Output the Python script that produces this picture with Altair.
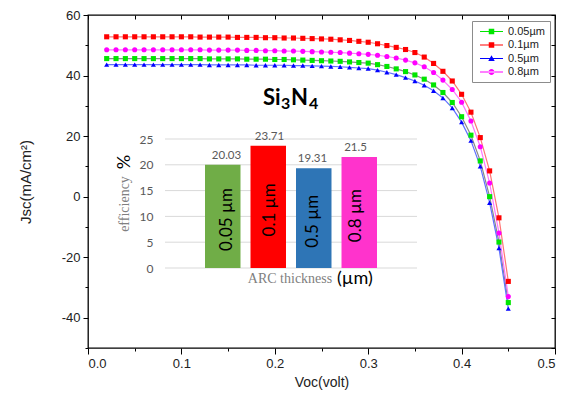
import altair as alt
import pandas as pd

# ---------------- data ----------------
voc = [0.02, 0.03, 0.04, 0.05, 0.06, 0.07, 0.08, 0.09, 0.10, 0.11,
       0.12, 0.13, 0.14, 0.15, 0.16, 0.17, 0.18, 0.19, 0.20, 0.21,
       0.22, 0.23, 0.24, 0.25, 0.26, 0.27, 0.28, 0.29, 0.30, 0.31,
       0.32, 0.33, 0.34, 0.35, 0.36, 0.37, 0.38, 0.39, 0.40, 0.41,
       0.42, 0.43, 0.44, 0.45]

jsc_005 = [45.6, 45.6, 45.6, 45.6, 45.6, 45.6, 45.6, 45.6, 45.6, 45.6,
           45.6, 45.5, 45.5, 45.5, 45.5, 45.4, 45.4, 45.4, 45.3, 45.3,
           45.2, 45.1, 45.0, 44.9, 44.8, 44.7, 44.5, 44.3, 44.1, 43.6,
           43.0, 42.2, 41.3, 40.2, 38.8, 36.9, 34.4, 31.1, 26.4, 20.3,
           11.8, 0.0, -15.0, -35.0]
jsc_01 = [52.8, 52.8, 52.8, 52.8, 52.8, 52.8, 52.8, 52.8, 52.8, 52.8,
          52.7, 52.7, 52.7, 52.7, 52.6, 52.6, 52.6, 52.5, 52.5, 52.4,
          52.4, 52.3, 52.2, 52.1, 52.0, 51.8, 51.6, 51.3, 51.0, 50.5,
          49.9, 49.3, 48.6, 47.6, 46.1, 44.0, 41.4, 38.2, 33.8, 27.9,
          19.5, 8.5, -7.0, -28.0]
jsc_05 = [43.6, 43.6, 43.6, 43.6, 43.6, 43.6, 43.6, 43.6, 43.6, 43.6,
          43.6, 43.5, 43.5, 43.5, 43.5, 43.5, 43.4, 43.4, 43.4, 43.4,
          43.3, 43.3, 43.2, 43.1, 43.0, 42.9, 42.7, 42.5, 42.3, 41.8,
          41.1, 40.3, 39.3, 38.2, 36.8, 35.0, 32.6, 29.3, 24.6, 18.5,
          10.0, -2.0, -17.0, -37.0]
jsc_08 = [48.5, 48.5, 48.5, 48.5, 48.5, 48.5, 48.5, 48.5, 48.5, 48.5,
          48.5, 48.4, 48.4, 48.4, 48.4, 48.3, 48.3, 48.2, 48.2, 48.1,
          48.1, 48.0, 47.9, 47.8, 47.7, 47.6, 47.4, 47.2, 47.0, 46.7,
          46.3, 45.8, 45.1, 44.2, 42.9, 41.0, 38.5, 35.4, 31.2, 25.0,
          16.5, 4.5, -12.0, -33.0]

series_names = ["0.05µm", "0.1µm", "0.5µm", "0.8µm"]
series_values = [jsc_005, jsc_01, jsc_05, jsc_08]
marker_colors = ["#00e600", "#ff0000", "#0000ff", "#ff00ff"]
line_colors = ["#8a8a8a", "#ff7575", "#6070ff", "#ff75ff"]
marker_shapes = ["square", "square", "triangle-up", "circle"]

LINE = "M-2.3,-0.12H2.3V0.12H-2.3Z "
legend_paths = [
    LINE + "M-0.55,-0.55H0.55V0.55H-0.55Z",
    LINE + "M-0.55,-0.55H0.55V0.55H-0.55Z",
    LINE + "M0,-0.65L0.65,0.5H-0.65Z",
    LINE + "M-0.6,0A0.6,0.6 0 1,0 0.6,0A0.6,0.6 0 1,0 -0.6,0Z",
]

x_ticks = [0.0, 0.05, 0.1, 0.15, 0.2, 0.25, 0.3, 0.35, 0.4, 0.45, 0.5]
y_ticks = [-50, -40, -30, -20, -10, 0, 10, 20, 30, 40, 50, 60]

thickness = ["0.05 µm", "0.1 µm", "0.5 µm", "0.8 µm"]
efficiency = [20.03, 23.71, 19.31, 21.5]
eff_labels = ["20.03", "23.71", "19.31", "21.5"]
bar_colors = ["#70ad47", "#ff0000", "#2e75b6", "#ff33cc"]
bar_ticks = [0, 5, 10, 15, 20, 25]

# ---------------- tables ----------------
rows = []
for name, vals, mc, lc, sh in zip(series_names, series_values, marker_colors, line_colors, marker_shapes):
    for i, (v, j) in enumerate(zip(voc, vals)):
        rows.append({"series": name, "V": v, "J": j, "i": i, "mc": mc, "lc": lc, "shape": sh})
curves = pd.DataFrame(rows)

bar_df = pd.DataFrame({"t": thickness, "e": efficiency, "lab": eff_labels, "c": bar_colors})
grid_df = pd.DataFrame({"g": bar_ticks})

W, H = 467, 333
TOP = 7  # plot top sits at 8 + TOP px on the page
xs = alt.Scale(domain=[0, 0.5], nice=False, zero=False)
ys = alt.Scale(domain=[-50, 60], nice=False, zero=False)

major_x = "abs(datum.value*10 - round(datum.value*10)) < 0.01"
major_y = "datum.value % 20 == 0"

lines = alt.Chart(curves).mark_line(strokeWidth=1.2).encode(
    x=alt.X("V:Q", scale=xs, axis=alt.Axis(
        orient="bottom", values=x_ticks, grid=False, domain=False,
        labelExpr=f"{major_x} ? format(datum.value, '.1f') : ''",
        tickSize={"condition": {"test": major_x, "value": 6}, "value": 3},
        tickColor="black", labelFont="Liberation Sans", labelFontSize=13,
        labelColor="#222", labelPadding=3,
        title="Voc(volt)", titleFont="Liberation Sans", titleFontSize=14,
        titleFontWeight="normal", titleColor="#222", titlePadding=5)),
    y=alt.Y("J:Q", scale=ys, axis=alt.Axis(
        orient="left", values=y_ticks, grid=False, domain=False,
        labelExpr=f"{major_y} ? datum.value : ''",
        tickSize={"condition": {"test": major_y, "value": 5}, "value": 3},
        tickColor="black", labelFont="Liberation Sans", labelFontSize=13,
        labelColor="#222", labelPadding=3,
        title="Jsc(mA/cm²)", titleFont="Liberation Sans", titleFontSize=15,
        titleFontWeight="normal", titleColor="#222", titlePadding=28)),
    color=alt.Color("lc:N", scale=None),
    detail="series:N",
    order="i:Q",
)

points = alt.Chart(curves).mark_point(filled=True, size=26, opacity=1).encode(
    x=alt.X("V:Q", scale=xs, axis=alt.Axis(
        orient="top", values=x_ticks, labels=False, grid=False, domain=False,
        tickSize={"expr": "-4"}, tickColor="black", title=None)),
    y=alt.Y("J:Q", scale=ys, axis=alt.Axis(
        orient="right", values=y_ticks, labels=False, grid=False, domain=False,
        tickSize={"expr": "-4"}, tickColor="black", title=None)),
    color=alt.Color("mc:N", scale=None),
    shape=alt.Shape("shape:N", scale=None),
)

leg = dict(title=None, orient="none", legendX=384, legendY=6, padding=5,
           strokeColor="#8c8c8c", fillColor="white", labelFont="Liberation Sans",
           labelFontSize=11, labelColor="#222", symbolSize=100, symbolOffset=9,
           labelOffset=11, rowPadding=1.5, symbolStrokeWidth=0)
legend_layer = alt.Chart(curves).transform_filter("false").mark_point(filled=True, opacity=1).encode(
    color=alt.Color("series:N", scale=alt.Scale(domain=series_names, range=marker_colors),
                    legend=alt.Legend(**leg)),
    shape=alt.Shape("series:N", scale=alt.Scale(domain=series_names, range=legend_paths),
                    legend=alt.Legend(**leg)),
)

# ---------------- inset bar chart ----------------
OX, OY = 88, 8 + TOP  # plot origin on the page
bx = alt.Scale(domain=thickness, range=[205 - OX, 377 - OX], paddingInner=0.22, paddingOuter=0)
by = alt.Scale(domain=[0, 25], range=[268 - OY, 139 - OY], nice=False, zero=True)

bar_grid = alt.Chart(grid_df).mark_rule(color="#d9d9d9", strokeWidth=1).encode(
    y=alt.Y("g:Q", scale=by, axis=alt.Axis(
        orient="left", offset=-(165 - OX), values=bar_ticks, grid=False, domain=False,
        ticks=False, tickSize=0, labelPadding=12, labelColor="#595959",
        labelFont="Lato", labelFontSize=12, title=None)),
    x=alt.value(165 - OX), x2=alt.value(417 - OX),
)
bars = alt.Chart(bar_df).mark_bar().encode(
    x=alt.X("t:N", scale=bx, axis=None, sort=thickness),
    y=alt.Y("e:Q", scale=by, axis=None),
    color=alt.Color("c:N", scale=None),
)
bar_vals = alt.Chart(bar_df).mark_text(baseline="bottom", dy=-4, font="Lato",
                                       fontSize=11.5, color="#595959").encode(
    x=alt.X("t:N", scale=bx, axis=None, sort=thickness),
    y=alt.Y("e:Q", scale=by, axis=None),
    text="lab:N",
)
bar_names = alt.Chart(bar_df).transform_calculate(mid="datum.e/2 - 0.6").mark_text(
    angle=270, baseline="middle", align="center", font="Lato", fontSize=17, color="black").encode(
    x=alt.X("t:N", scale=bx, axis=None, sort=thickness),
    y=alt.Y("mid:Q", scale=by, axis=None),
    text="t:N",
)


def label(txt, x, y, **kw):
    # x, y given in page pixels, converted to plot coordinates
    return alt.Chart(pd.DataFrame({"t": [txt]})).mark_text(**kw).encode(
        x=alt.value(x - OX), y=alt.value(y - OY), text="t:N")


texts = [
    label("ARC thickness", 290, 283, font="Liberation Serif", fontSize=14, color="#808080",
          align="center", baseline="alphabetic"),
    label("(µm)", 337, 284, font="Lato", fontSize=18, color="black",
          align="left", baseline="alphabetic"),
    label("efficiency", 125, 204, font="Liberation Serif", fontSize=14, color="#808080",
          align="center", baseline="middle", angle=270),
    label("%", 125, 162, font="Lato", fontSize=18, color="black",
          align="center", baseline="middle", angle=270),
    label("Si", 263, 105, font="Lato", fontSize=22, fontWeight="bold", color="black",
          align="left", baseline="alphabetic"),
    label("3", 281, 109, font="Lato", fontSize=16, fontWeight="bold", color="black",
          align="left", baseline="alphabetic"),
    label("N", 291, 105, font="Lato", fontSize=22, fontWeight="bold", color="black",
          align="left", baseline="alphabetic"),
    label("4", 309, 109, font="Lato", fontSize=16, fontWeight="bold", color="black",
          align="left", baseline="alphabetic"),
]

chart = alt.layer(
    bar_grid, bars, bar_vals, bar_names, *texts, lines, points, legend_layer
).resolve_scale(
    x="independent", y="independent", color="independent", shape="independent"
).resolve_axis(
    x="independent", y="independent"
).properties(
    width=W, height=H, autosize="none",
    padding={"left": 80, "top": TOP, "right": 15, "bottom": 384 - H - TOP},
).configure_view(stroke="black", strokeWidth=1.3)

chart.save("out.html", embed_options={"renderer": "svg", "actions": False})
